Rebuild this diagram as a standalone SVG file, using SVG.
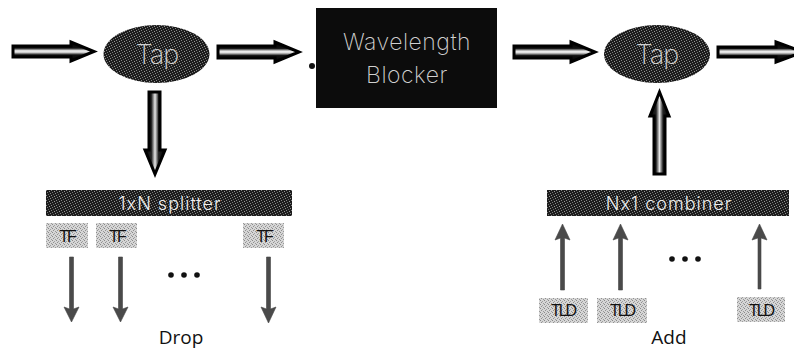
<svg xmlns="http://www.w3.org/2000/svg" width="794" height="351" viewBox="0 0 794 351">
<style>
text{font-family:"Liberation Sans",sans-serif;text-anchor:middle}
.lt{font-family:Inter,"Open Sans",sans-serif;fill:#d0d0d0;font-weight:200}
.dk{fill:#111;font-size:16px;letter-spacing:-2px}
.lb{font-family:"Open Sans","Liberation Sans",sans-serif;fill:#111;font-size:19px}
.big{stroke:#000;stroke-width:3;stroke-linejoin:miter}
.thin{fill:#4a4a4a;stroke:#444;stroke-width:.6}
.dot{fill:#111}
</style>
<defs>
<pattern id="dark" width="5" height="5" patternUnits="userSpaceOnUse">
<rect width="5" height="5" fill="#1c1c1c"/>
<rect x="1" y="0" width="1" height="1" fill="#888"/><rect x="4" y="1" width="1" height="1" fill="#999"/>
<rect x="2" y="2" width="1" height="1" fill="#777"/><rect x="0" y="3" width="1" height="1" fill="#888"/>
<rect x="3" y="4" width="1" height="1" fill="#666"/>
</pattern>
<pattern id="gray" width="4" height="4" patternUnits="userSpaceOnUse">
<rect width="4" height="4" fill="#d6d6d6"/>
<rect x="0" y="0" width="1" height="1" fill="#8a8a8a"/><rect x="2" y="1" width="1" height="1" fill="#a0a0a0"/>
<rect x="1" y="2" width="1" height="1" fill="#909090"/><rect x="3" y="3" width="1" height="1" fill="#999"/>
</pattern>
<linearGradient id="h" x1="0" y1="0" x2="0" y2="1"><stop offset="0" stop-color="#000"/><stop offset=".32" stop-color="#111"/><stop offset=".46" stop-color="#eee"/><stop offset=".54" stop-color="#ddd"/><stop offset=".68" stop-color="#111"/><stop offset="1" stop-color="#000"/></linearGradient>
<linearGradient id="v" x1="0" y1="0" x2="1" y2="0"><stop offset="0" stop-color="#000"/><stop offset=".32" stop-color="#222"/><stop offset=".5" stop-color="#e8e8e8"/><stop offset=".68" stop-color="#222"/><stop offset="1" stop-color="#000"/></linearGradient>
</defs>
<g id="connectors">
<path class="big" fill="url(#h)" d="M13 46H71V42L94 51.500L71 61V57H13Z"/>
<path class="big" fill="url(#h)" d="M218 46H275V42L299 52L275 62V58H218Z"/>
<path class="big" fill="url(#h)" d="M514 46H571V42L595 52L571 62V58H514Z"/>
<path class="big" fill="url(#h)" d="M718 47H776V42L803 52L776 62V57H718Z"/>
<path class="big" fill="url(#v)" d="M149 92H160V150H165L155 174L145 150H149Z"/>
<path class="big" fill="url(#v)" d="M654 174V116H650L659.500 92L669 116H665V174Z"/>
<path class="thin" d="M69.500 257H73.500V309L79 307L71.500 322L64 307L69.500 309Z"/>
<path class="thin" d="M118.500 257H122.500V309L128 307L120.500 322L113 307L118.500 309Z"/>
<path class="thin" d="M266.500 257H270.500V309L276 307L268.500 323L261 307L266.500 309Z"/>
<path class="thin" d="M560.500 290V238L555 240L562.500 224L570 240L564.500 238V290Z"/>
<path class="thin" d="M618.500 290V238L613 240L620.500 224L628 240L622.500 238V290Z"/>
<path class="thin" d="M758 289V238L752 240L759.500 224L767 240L761 238V289Z"/>
</g>
<g id="tap-1"><ellipse cx="156.500" cy="54" rx="53" ry="29" fill="url(#dark)"/><text class="lt" x="157" y="64" font-size="27" letter-spacing="-1">Tap</text></g>
<g id="blocker"><rect x="316" y="8" width="181" height="100" fill="#0c0c0c"/><text class="lt" x="407" y="50" font-size="23" letter-spacing=".5">Wavelength</text><text class="lt" x="407" y="83" font-size="23" letter-spacing=".5">Blocker</text></g>
<circle id="blocker-mark" class="dot" cx="312" cy="66" r="3"/>
<g id="tap-2"><ellipse cx="657" cy="54" rx="53" ry="29" fill="url(#dark)"/><text class="lt" x="657" y="64" font-size="27" letter-spacing="-1">Tap</text></g>
<g id="splitter"><rect x="46" y="190" width="246" height="26" fill="url(#dark)"/><text class="lt" x="170" y="210" font-size="18" letter-spacing="1" style="font-weight:300;fill:#eee">1xN splitter</text></g>
<g id="combiner"><rect x="547" y="190" width="242" height="26" fill="url(#dark)"/><text class="lt" x="669" y="210" font-size="18" letter-spacing="1" style="font-weight:300;fill:#eee">Nx1 combiner</text></g>
<g id="tf-1"><rect x="46" y="223" width="42" height="25" fill="url(#gray)"/><text class="dk" x="67" y="242">TF</text></g>
<g id="tf-2"><rect x="96" y="223" width="41" height="25" fill="url(#gray)"/><text class="dk" x="117" y="242">TF</text></g>
<g id="tf-3"><rect x="243" y="223" width="41" height="25" fill="url(#gray)"/><text class="dk" x="264" y="242">TF</text></g>
<g id="tld-1"><rect x="539" y="298" width="49" height="25" fill="url(#gray)"/><text class="dk" x="563" y="316">TLD</text></g>
<g id="tld-2"><rect x="597" y="298" width="50" height="25" fill="url(#gray)"/><text class="dk" x="622" y="316">TLD</text></g>
<g id="tld-3"><rect x="737" y="297" width="48" height="25" fill="url(#gray)"/><text class="dk" x="761" y="316">TLD</text></g>
<g id="dots-drop"><circle class="dot" cx="171" cy="275" r="2.800"/><circle class="dot" cx="184" cy="275" r="2.800"/><circle class="dot" cx="197" cy="275" r="2.800"/></g>
<g id="dots-add"><circle class="dot" cx="672" cy="259" r="2.800"/><circle class="dot" cx="685" cy="259" r="2.800"/><circle class="dot" cx="698" cy="259" r="2.800"/></g>
<text class="lb" x="181" y="344">Drop</text>
<text class="lb" x="669" y="344">Add</text>
</svg>
